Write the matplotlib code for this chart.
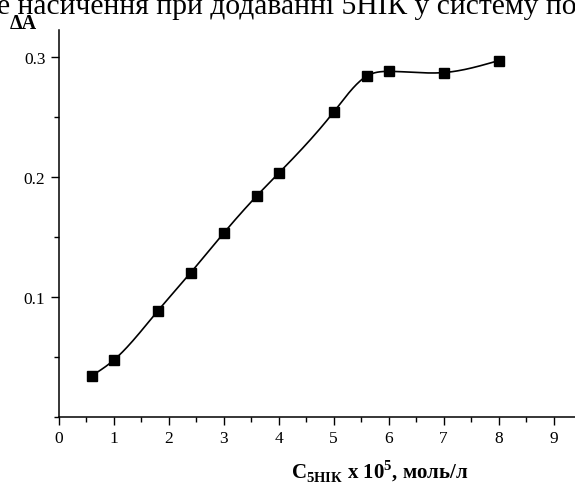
import numpy as np
import matplotlib.pyplot as plt
from matplotlib.ticker import MultipleLocator

plt.rcParams['font.family'] = ['Liberation Serif', 'DejaVu Serif']
plt.rcParams['mathtext.fontset'] = 'custom'
plt.rcParams['mathtext.rm'] = 'Liberation Serif:bold'
plt.rcParams['mathtext.bf'] = 'Liberation Serif:bold'

#---Data
conc = [0.6, 1.0, 1.8, 2.4, 3.0, 3.6, 4.0, 5.0, 5.6, 6.0, 7.0, 8.0]
dA = [0.034, 0.047, 0.088, 0.120, 0.153, 0.184, 0.203, 0.254, 0.284, 0.288, 0.287, 0.297]


#---Smooth connecting line (natural cubic spline through the points)
def smooth_line(x, y, n=40):
    x = np.asarray(x, float)
    y = np.asarray(y, float)
    N = len(x)
    h = np.diff(x)
    A = np.zeros((N, N))
    b = np.zeros(N)
    A[0, 0] = 1
    A[-1, -1] = 1
    for k in range(1, N - 1):
        A[k, k - 1] = h[k - 1]
        A[k, k] = 2 * (h[k - 1] + h[k])
        A[k, k + 1] = h[k]
        b[k] = 6 * ((y[k + 1] - y[k]) / h[k] - (y[k] - y[k - 1]) / h[k - 1])
    M = np.linalg.solve(A, b)
    xs, ys = [], []
    for k in range(N - 1):
        t = np.linspace(x[k], x[k + 1], n)
        a = x[k + 1] - t
        c = t - x[k]
        s = (M[k] * a**3 + M[k + 1] * c**3) / (6 * h[k]) \
            + (y[k] / h[k] - M[k] * h[k] / 6) * a \
            + (y[k + 1] / h[k] - M[k + 1] * h[k] / 6) * c
        xs.append(t)
        ys.append(s)
    return np.concatenate(xs), np.concatenate(ys)


fig = plt.figure(figsize=(5.75, 4.85), dpi=100)
ax = fig.add_axes([0.102, 0.139, 0.898, 0.797])

sx, sy = smooth_line(conc, dA)
ax.plot(sx, sy, '-', color='black', lw=1.2)
ax.plot(conc, dA, 's', color='black', markersize=6.5)

ax.set_xlim(0, 9.39)
ax.set_ylim(0, 0.3225)
ax.xaxis.set_major_locator(MultipleLocator(1))
ax.xaxis.set_minor_locator(MultipleLocator(0.5))
ax.set_yticks([0.1, 0.2, 0.3])
ax.set_yticklabels(['0.1', '0.2', '0.3'])
ax.yaxis.set_minor_locator(MultipleLocator(0.05))
ax.tick_params(which='major', direction='out', length=6, width=1, labelsize=12.5, colors='black')
ax.tick_params(which='minor', direction='out', length=3.5, width=1)
for s in ['top', 'right']:
    ax.spines[s].set_visible(False)
for s in ['left', 'bottom']:
    ax.spines[s].set_linewidth(1.1)

ax.set_xlabel(r'C$_{\mathbf{5НІК}}$ x 10$^{\mathbf{5}}$, моль/л', fontsize=15, fontweight='bold')
ax.xaxis.set_label_coords(0.622, -0.106)
fig.text(0.017, 0.94, 'ΔA', fontsize=14.5, fontweight='bold')
fig.text(-0.005, 0.971, 'е насичення при додаванні 5НІК у систему пов', fontsize=21.3, va='baseline')

plt.savefig('out.png', dpi=100)
